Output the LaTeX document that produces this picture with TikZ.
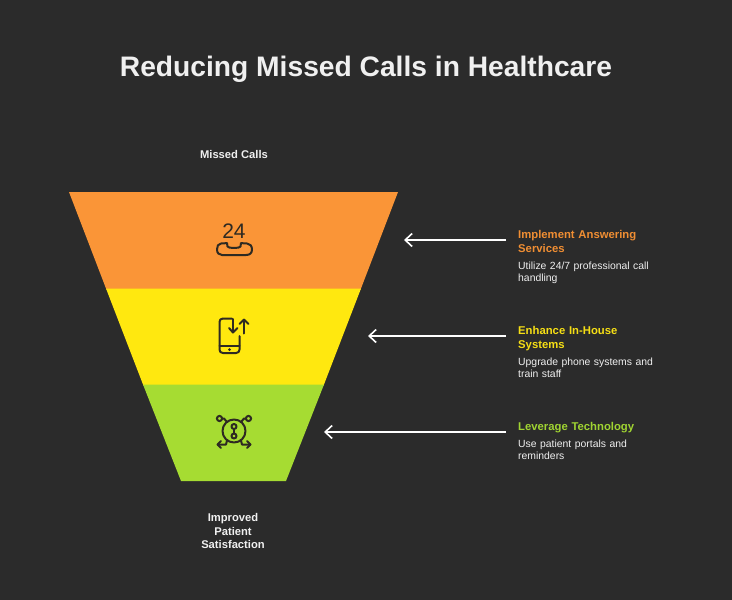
\documentclass[tikz,border=0pt]{standalone}
\usepackage{fontspec}
\setmainfont{Liberation Sans}
\usetikzlibrary{arrows.meta}
\definecolor{bg}{HTML}{2B2B2B}
\definecolor{orangeC}{HTML}{FA9537}
\definecolor{yellowC}{HTML}{FFE80F}
\definecolor{greenC}{HTML}{A6DC32}
\definecolor{orangeT}{HTML}{F08E33}
\definecolor{yellowT}{HTML}{F5DE15}
\definecolor{greenT}{HTML}{A0D432}
\definecolor{ink}{HTML}{2E2A22}
\definecolor{soft}{HTML}{F0F0F0}
\tikzset{
  x=1pt,y=-1pt,
  titlet/.style={font=\bfseries\fontsize{28.2}{34}\selectfont,text=soft,inner sep=0pt},
  endt/.style={font=\bfseries\fontsize{11.2}{13.8}\selectfont,text=soft,align=center,inner sep=0pt},
  headt/.style={font=\bfseries\fontsize{11.3}{14}\selectfont,align=left,anchor=north west,inner sep=0pt,text width=140pt},
  bodyt/.style={font=\fontsize{10.4}{12}\selectfont,text=soft,align=left,anchor=north west,inner sep=0pt,text width=145pt},
  arrowline/.style={draw=white,line width=1.6pt,-{Straight Barb[length=7pt,width=13pt,line width=1.6pt]}},
  icon/.style={draw=ink,line width=2pt,line cap=round,line join=round},
}
\begin{document}
\begin{tikzpicture}
\useasboundingbox (0,0) rectangle (732,600);
\fill[bg] (0,0) rectangle (732,600);
\node[titlet] (title) at (366,69) {Reducing Missed Calls in Healthcare};
\node[endt] (top) at (234,154.5) {Missed Calls};
\node[endt] (bottom) at (233,531) {Improved\\Patient\\Satisfaction};
% funnel
\fill[orangeC] (69,192) -- (398,192) -- (360.6,289.5) -- (106.4,289.5) -- cycle;
\fill[yellowC] (106,288.5) -- (361,288.5) -- (323.6,385.5) -- (143.4,385.5) -- cycle;
\fill[greenC] (143,384.5) -- (324,384.5) -- (286,481) -- (181,481) -- cycle;
% icon 1: 24 handset
\node[font=\fontsize{21}{21}\selectfont,text=ink,inner sep=0pt] (twentyfour) at (234,231) {24};
\draw[icon] (227,243) .. controls (225,243.2) and (224,243.5) .. (221,243.5)
  .. controls (218,243.5) and (217,246.5) .. (217,249.5)
  .. controls (217,253) and (219,255) .. (222,255)
  -- (246,255) .. controls (250,255) and (252,253) .. (252,249.5)
  .. controls (252,246) and (250,243.5) .. (247,243.5)
  .. controls (244,243.5) and (243,243.2) .. (241,243)
  -- (240.5,246.5) .. controls (240,248.5) and (228,248.5) .. (227.5,246.5) -- cycle;
% icon 2: phone with arrows
\draw[icon] (232,318.5) -- (223,318.5) .. controls (220.5,318.5) and (219.5,320) .. (219.5,322)
  -- (219.5,349.5) .. controls (219.5,351.5) and (220.5,353) .. (223,353)
  -- (236,353) .. controls (238.5,353) and (239.5,351.5) .. (239.5,349.5) -- (239.5,336);
\draw[icon] (219.5,346) -- (239.5,346);
\fill[ink] (229.5,349.6) circle (1.5);
\draw[icon] (233,319) -- (233,332);
\draw[icon] (229,328) -- (233,332.5) -- (237.5,328);
\draw[icon] (244,333.5) -- (244,319.5);
\draw[icon] (239.5,324) -- (244,319.5) -- (248.5,324);
% icon 3: network
\draw[icon] (234,431) circle (11.5);
\draw[icon] (234,426.5) circle (2.5);
\draw[icon] (234,436) circle (2.5);
\draw[icon] (234,429) -- (234,433.5);
\draw[icon] (219.5,418.5) circle (2.6);
\draw[icon] (248.5,418.5) circle (2.6);
\draw[icon] (222.2,418.5) -- (224,418.5) -- (227,422);
\draw[icon] (245.8,418.5) -- (244,418.5) -- (241,422);
\draw[icon] (217.5,444.5) -- (226,444.5) -- (227,440.5);
\draw[icon] (250.5,444.5) -- (242,444.5) -- (241,440.5);
\draw[icon] (221,441) -- (217.5,444.5) -- (221,448);
\draw[icon] (247,441) -- (250.5,444.5) -- (247,448);
% arrows
\coordinate (a1s) at (506,240); \coordinate (a1e) at (404,240);
\coordinate (a2s) at (506,336); \coordinate (a2e) at (368,336);
\coordinate (a3s) at (506,432); \coordinate (a3e) at (324,432);
\draw[arrowline] (a1s) -- (a1e);
\draw[arrowline] (a2s) -- (a2e);
\draw[arrowline] (a3s) -- (a3e);
% labels
\node[headt,text=orangeT] (h1) at (518,230.5) {Implement Answering\\Services};
\node[bodyt] (b1) at (518,262) {Utilize 24/7 professional call\\handling};
\node[headt,text=yellowT] (h2) at (518,326.5) {Enhance In-House\\Systems};
\node[bodyt] (b2) at (518,358) {Upgrade phone systems and\\train staff};
\node[headt,text=greenT] (h3) at (518,422.5) {Leverage Technology};
\node[bodyt] (b3) at (518,440) {Use patient portals and\\reminders};
\end{tikzpicture}
\end{document}
